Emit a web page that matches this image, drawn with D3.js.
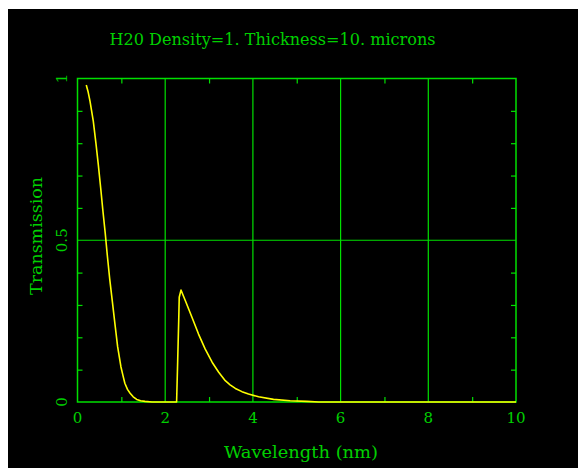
<!DOCTYPE html>
<html>
<head>
<meta charset="utf-8">
<script src="https://cdn.jsdelivr.net/npm/d3@7"></script>
<style>
  html, body { margin: 0; padding: 0; background: #fff; }
  #plot { position: absolute; left: 8px; top: 9px; }
</style>
</head>
<body>
<div id="plot"></div>
<script>
// values (wavelength in nm, transmission 0..1)
var wavelength = [0.20, 0.24, 0.285, 0.36, 0.42, 0.475, 0.53, 0.58, 0.63, 0.683, 0.735, 0.795, 0.855, 0.915, 0.99, 1.04, 1.08, 1.14, 1.20, 1.27, 1.35, 1.44, 1.54, 1.70,
  2.26, 2.285, 2.31, 2.32, 2.36, 2.46, 2.61, 2.76, 2.91, 3.07, 3.22, 3.37, 3.48, 3.60, 3.75, 3.90, 4.13, 4.47, 4.85, 5.23, 5.50, 10];
var transmission = [0.98, 0.96, 0.93, 0.868, 0.80, 0.733, 0.66, 0.59, 0.525, 0.449, 0.38, 0.31, 0.24, 0.171, 0.109, 0.08, 0.058, 0.039, 0.027, 0.016, 0.008, 0.004, 0.002, 0,
  0, 0.128, 0.262, 0.324, 0.346, 0.313, 0.262, 0.210, 0.164, 0.123, 0.092, 0.066, 0.053, 0.042, 0.032, 0.025, 0.016, 0.008, 0.004, 0.002, 0, 0];

var xLabels = [0, 2, 4, 6, 8, 10];
var xMinor = [1, 3, 5, 7, 9];
var xGrid = [2, 4, 6, 8];
var yLabels = [0, 0.5, 1];
var yMinor = [0.1, 0.2, 0.3, 0.4, 0.6, 0.7, 0.8, 0.9];
var yGrid = [0.5];

var title = "H20 Density=1. Thickness=10. microns";
var xTitle = "Wavelength (nm)";
var yTitle = "Transmission";

// canvas
var svgWidth = 570;
var svgHeight = 459;
var off = { x: 8, y: 9 }; // page offset of the svg

var margin = { top: 78.5 - off.y, left: 77.5 - off.x };
var width = 516 - 77.5;
var height = 402 - 78.5;

var green = "#00e000";
var textGreen = "#00d000";
var font = "'DejaVu Serif', serif";

var svg = d3.select("#plot")
  .append("svg")
  .attr("width", svgWidth)
  .attr("height", svgHeight)
  .style("display", "block");

svg.append("rect")
  .attr("width", svgWidth)
  .attr("height", svgHeight)
  .attr("fill", "#000");

var chartGroup = svg.append("g")
  .attr("transform", `translate(${margin.left}, ${margin.top})`);

var x = d3.scaleLinear().domain([0, 10]).range([0, width]);
var y = d3.scaleLinear().domain([0, 1]).range([height, 0]);

// minor ticks, drawn inward on all four sides
function styleAxis(g) {
  g.select(".domain").remove();
  g.selectAll("line").attr("stroke", green).attr("stroke-width", 1.2);
  g.selectAll("text").remove();
}
chartGroup.append("g")
  .attr("transform", `translate(0, ${height})`)
  .call(d3.axisBottom(x).tickValues(xMinor).tickSize(-5))
  .call(styleAxis);
chartGroup.append("g")
  .call(d3.axisTop(x).tickValues(xMinor).tickSize(-5))
  .call(styleAxis);
chartGroup.append("g")
  .call(d3.axisLeft(y).tickValues(yMinor).tickSize(-5))
  .call(styleAxis);
chartGroup.append("g")
  .attr("transform", `translate(${width}, 0)`)
  .call(d3.axisRight(y).tickValues(yMinor).tickSize(-5))
  .call(styleAxis);

// grid lines
chartGroup.selectAll(".vgrid")
  .data(xGrid)
  .enter()
  .append("line")
  .attr("x1", d => x(d)).attr("x2", d => x(d))
  .attr("y1", 0).attr("y2", height)
  .attr("stroke", green).attr("stroke-width", 1.2);

chartGroup.selectAll(".hgrid")
  .data(yGrid)
  .enter()
  .append("line")
  .attr("x1", 0).attr("x2", width)
  .attr("y1", d => y(d)).attr("y2", d => y(d))
  .attr("stroke", green).attr("stroke-width", 1.2);

// frame
chartGroup.append("rect")
  .attr("width", width)
  .attr("height", height)
  .attr("fill", "none")
  .attr("stroke", green)
  .attr("stroke-width", 1.5);

// the curve
var pts = wavelength.map((w, i) => [w, transmission[i]]);
var line = d3.line()
  .x(d => x(d[0]))
  .y(d => y(d[1]));

chartGroup.append("path")
  .datum(pts)
  .attr("d", line)
  .attr("fill", "none")
  .attr("stroke", "#ffff00")
  .attr("stroke-width", 1.6)
  .attr("stroke-linejoin", "round");

// x tick labels
chartGroup.selectAll(".xlab")
  .data(xLabels)
  .enter()
  .append("text")
  .attr("x", d => x(d))
  .attr("y", height + 21)
  .attr("text-anchor", "middle")
  .attr("fill", textGreen)
  .style("font-family", font)
  .style("font-size", "15px")
  .text(d => d);

// y tick labels, rotated
chartGroup.selectAll(".ylab")
  .data(yLabels)
  .enter()
  .append("text")
  .attr("transform", d => `translate(-11, ${y(d)}) rotate(-90)`)
  .attr("text-anchor", "middle")
  .attr("fill", textGreen)
  .style("font-family", font)
  .style("font-size", "15px")
  .text(d => d);

// titles
svg.append("text")
  .attr("x", 272.5 - off.x)
  .attr("y", 45 - off.y)
  .attr("text-anchor", "middle")
  .attr("fill", textGreen)
  .attr("textLength", 326)
  .attr("lengthAdjust", "spacingAndGlyphs")
  .style("font-family", font)
  .style("font-size", "16px")
  .text(title);

svg.append("text")
  .attr("x", 301 - off.x)
  .attr("y", 458 - off.y)
  .attr("text-anchor", "middle")
  .attr("fill", textGreen)
  .attr("textLength", 154)
  .attr("lengthAdjust", "spacingAndGlyphs")
  .style("font-family", font)
  .style("font-size", "16px")
  .text(xTitle);

svg.append("text")
  .attr("transform", `translate(${42 - off.x}, ${236 - off.y}) rotate(-90)`)
  .attr("text-anchor", "middle")
  .attr("fill", textGreen)
  .attr("textLength", 118)
  .attr("lengthAdjust", "spacingAndGlyphs")
  .style("font-family", font)
  .style("font-size", "16px")
  .text(yTitle);
</script>
</body>
</html>
